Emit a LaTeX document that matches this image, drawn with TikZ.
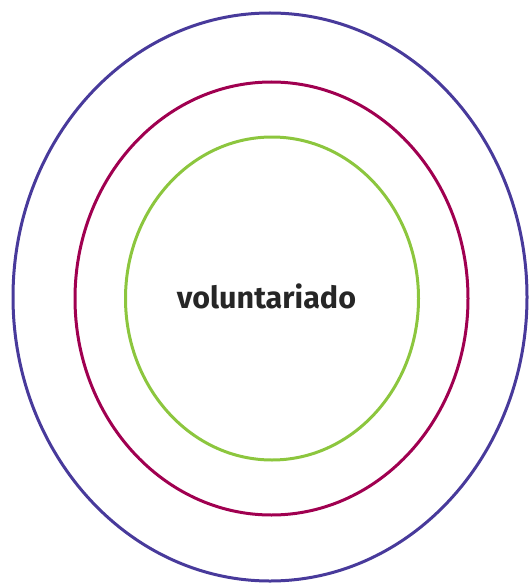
\documentclass[tikz,border=0pt]{standalone}
\usepackage{fontspec}
\setmainfont{Fira Sans}
\usetikzlibrary{shapes.geometric}
\definecolor{ringOuter}{RGB}{72,58,155}
\definecolor{ringMiddle}{RGB}{160,0,80}
\definecolor{ringInner}{RGB}{140,198,62}
\begin{document}
\begin{tikzpicture}[x=1pt, y=-1pt]
%% picture size follows the 528x583 reference, y grows downward
\tikzstyle{ring}=[ellipse, draw, line width=3pt, inner sep=0pt]
\tikzstyle{centertext}=[font=\fontsize{30.5}{33}\selectfont\bfseries, text=black!85]
\useasboundingbox (0,0) rectangle (528,583);
%% rings %%
\node[ring, draw=ringOuter, minimum width=514pt, minimum height=568pt] at (270,297) (Router) {};
\node[ring, draw=ringMiddle, minimum width=393pt, minimum height=433pt] at (271.5,298.5) (Rmiddle) {};
\node[ring, draw=ringInner, minimum width=293pt, minimum height=323pt] at (272,298.5) (Rinner) {};
%% label in the middle
\node[centertext] at (266.5,296) (Lvol) {voluntariado};
\end{tikzpicture}
\end{document}
